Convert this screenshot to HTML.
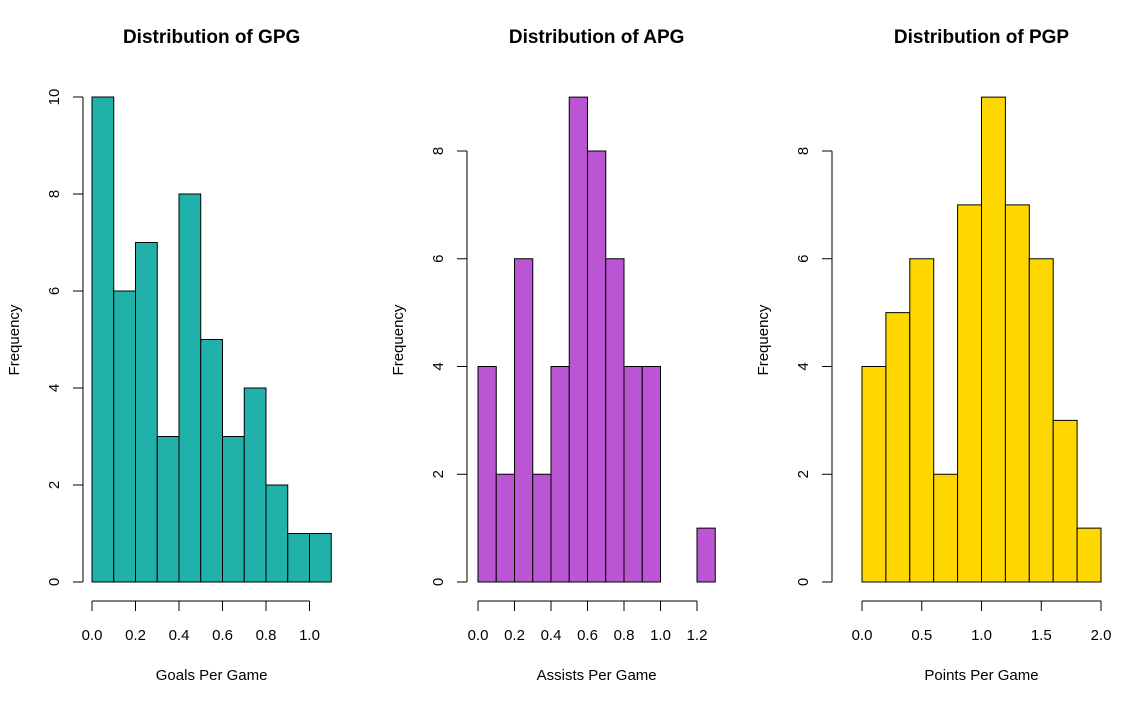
<!DOCTYPE html>
<html><head><meta charset="utf-8"><style>
body{margin:0;background:#fff}
svg text{font-family:"Liberation Sans",Arial,sans-serif;fill:#000}
</style></head><body>
<svg id="c" width="1135" height="706" viewBox="0 0 1135 706"></svg>
<script>
const gpgCounts=[10,6,7,3,8,5,3,4,2,1,1];
const apgCounts=[4,2,6,2,4,9,8,6,4,4,0,0,1];
const pgpCounts=[4,5,6,2,7,9,7,6,3,1];
const gpgXTicks=["0.0","0.2","0.4","0.6","0.8","1.0"];
const apgXTicks=["0.0","0.2","0.4","0.6","0.8","1.0","1.2"];
const pgpXTicks=["0.0","0.5","1.0","1.5","2.0"];
const gpgYTicks=[0,2,4,6,8,10];
const apgYTicks=[0,2,4,6,8];
const pgpYTicks=[0,2,4,6,8];
const panels=[
 {name:"gpg",title:"Distribution of GPG",xlab:"Goals Per Game",counts:gpgCounts,bw:0.1,xt:gpgXTicks,yt:gpgYTicks,x0:92,ppu:217.5,ymax:10,ytop:97,yax:83,color:"#20b2aa"},
 {name:"apg",title:"Distribution of APG",xlab:"Assists Per Game",counts:apgCounts,bw:0.1,xt:apgXTicks,yt:apgYTicks,x0:478,ppu:182.5,ymax:8,ytop:151,yax:467,color:"#ba55d3"},
 {name:"pgp",title:"Distribution of PGP",xlab:"Points Per Game",counts:pgpCounts,bw:0.2,xt:pgpXTicks,yt:pgpYTicks,x0:862,ppu:119.5,ymax:8,ytop:151,yax:832,color:"#ffd700"}
];
const svg=document.getElementById('c');const NS="http://www.w3.org/2000/svg";
function mk(t,a,p){const e=document.createElementNS(NS,t);for(const k in a)e.setAttribute(k,a[k]);(p||svg).appendChild(e);return e;}
const Y0=582;
panels.forEach(p=>{
 const g=mk('g',{});
 
 
 const sx=v=>p.x0+v*p.ppu;
 const sy=v=>Y0-v*(Y0-p.ytop)/p.ymax;
 const cx=(sx(0)+sx(p.counts.length*p.bw))/2;
 const t=mk('text',{x:cx,y:43,'text-anchor':'middle','font-size':19,'font-weight':'bold'},g);t.textContent=p.title;
 
 p.counts.forEach((c,i)=>{
  const r=mk('rect',{x:sx(i*p.bw),y:sy(c),width:sx((i+1)*p.bw)-sx(i*p.bw),height:Y0-sy(c),fill:p.color,stroke:'#000','stroke-width':1},g);
  
 });
 // x axis
 const xv=p.xt.map(Number);
 mk('line',{x1:sx(xv[0]),x2:sx(xv[xv.length-1]),y1:601,y2:601,stroke:'#000'},g);
 p.xt.forEach(l=>{const x=sx(+l);mk('line',{x1:x,x2:x,y1:601,y2:611,stroke:'#000'},g);
  const tt=mk('text',{x:x,y:640,'text-anchor':'middle','font-size':15},g);tt.textContent=l;
  });
 // y axis
 mk('line',{x1:p.yax,x2:p.yax,y1:sy(p.yt[0]),y2:sy(p.yt[p.yt.length-1]),stroke:'#000'},g);
 p.yt.forEach(v=>{const y=sy(v);mk('line',{x1:p.yax-10,x2:p.yax,y1:y,y2:y,stroke:'#000'},g);
  const tt=mk('text',{x:p.yax-24,y:y,'text-anchor':'middle','font-size':15,transform:`rotate(-90 ${p.yax-24} ${y})`},g);tt.textContent=v;
  });
 const xl=mk('text',{x:cx,y:680,'text-anchor':'middle','font-size':15},g);xl.textContent=p.xlab;
 
 const lx=p.yax-64;
 const yl=mk('text',{x:lx,y:340,'text-anchor':'middle','font-size':15,transform:`rotate(-90 ${lx} 340)`},g);yl.textContent="Frequency";
 
});
</script>
</body></html>
